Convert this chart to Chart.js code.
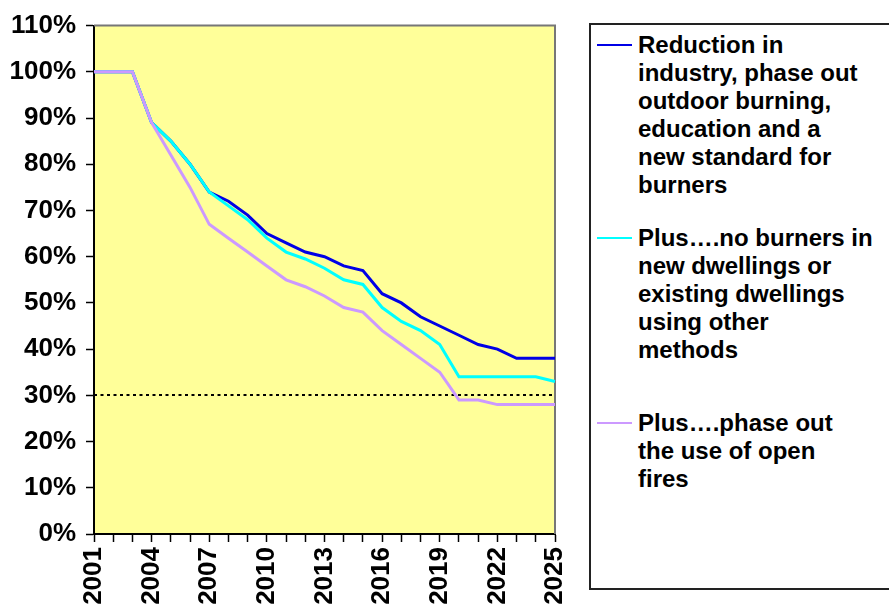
<!DOCTYPE html>
<html>
<head>
<meta charset="utf-8">
<script src="https://cdn.jsdelivr.net/npm/chart.js@4/dist/chart.umd.min.js"></script>
<style>
  body { margin: 0; background: #fff; }
  #wrap { position: relative; width: 889px; height: 615px; overflow: hidden; }
  #legend {
    position: absolute; left: 589px; top: 23px; width: 330px; height: 567px;
    border: 2px solid #222; box-sizing: border-box; background: #fff;
  }
  .item {
    position: absolute; left: 638px; font: bold 24px "Liberation Sans", Arial, sans-serif;
    line-height: 28px; color: #000; white-space: pre;
  }
  .swatch { position: absolute; left: 597px; width: 35px; height: 2px; }
</style>
</head>
<body>
<div id="wrap">
  <canvas id="myChart" width="889" height="615"></canvas>
  <div id="legend"></div>
</div>
<script>
// 年（横軸）
const years = ["2001", "2002", "2003", "2004", "2005", "2006", "2007", "2008", "2009", "2010",
  "2011", "2012", "2013", "2014", "2015", "2016", "2017", "2018", "2019", "2020",
  "2021", "2022", "2023", "2024", "2025"];

// 各シナリオの値（%）
const industryValues = [100, 100, 100, 89, 85, 80, 74, 72, 69, 65, 63, 61, 60, 58, 57, 52, 50, 47, 45, 43, 41, 40, 38, 38, 38];
const dwellingValues = [100, 100, 100, 89, 85, 80, 74, 71, 68, 64, 61, 59.5, 57.5, 55, 54, 49, 46, 44, 41, 34, 34, 34, 34, 34, 33];
const openFireValues = [100, 100, 100, 89, 82, 75, 67, 64, 61, 58, 55, 53.5, 51.5, 49, 48, 44, 41, 38, 35, 29, 29, 28, 28, 28, 28];

const seriesNames = [
  "Reduction in\nindustry, phase out\noutdoor burning,\neducation and a\nnew standard for\nburners",
  "Plus….no burners in\nnew dwellings or\nexisting dwellings\nusing other\nmethods",
  "Plus….phase out\nthe use of open\nfires",
];
const seriesColors = ["#0000e6", "#00ffff", "#cc99ff"];

// 目標ライン
const targetLevel = 30;

const yTicks = [0, 10, 20, 30, 40, 50, 60, 70, 80, 90, 100, 110];

Chart.defaults.font.family = '"Liberation Sans", Arial, sans-serif';
Chart.defaults.font.weight = "bold";
Chart.defaults.font.size = 26;
Chart.defaults.color = "#000";

// プロットエリアの背景と枠
const plotArea = {
  id: "plotArea",
  beforeDraw(chart) {
    const { ctx, chartArea: a } = chart;
    ctx.save();
    ctx.fillStyle = "#ffff99";
    ctx.fillRect(a.left, a.top, a.right - a.left, a.bottom - a.top);
    ctx.restore();
  },
  beforeDatasetsDraw(chart) {
    const { ctx, chartArea: a, scales } = chart;
    ctx.save();
    ctx.strokeStyle = "#777";
    ctx.lineWidth = 2;
    ctx.beginPath();
    ctx.moveTo(a.left, a.top);
    ctx.lineTo(a.right, a.top);
    ctx.lineTo(a.right, a.bottom);
    ctx.stroke();
    // 30% の点線
    const y = Math.round(scales.y.getPixelForValue(targetLevel));
    ctx.strokeStyle = "#000";
    ctx.lineWidth = 2;
    ctx.setLineDash([3, 3.5]);
    ctx.beginPath();
    ctx.moveTo(a.left, y);
    ctx.lineTo(a.right, y);
    ctx.stroke();
    ctx.restore();
  },
};

const valueSets = [industryValues, dwellingValues, openFireValues];

new Chart(document.getElementById("myChart"), {
  type: "line",
  data: {
    labels: years,
    datasets: valueSets.map((vals, i) => ({
      label: seriesNames[i],
      data: vals,
      borderColor: seriesColors[i],
      borderWidth: 3,
      pointRadius: 0,
      tension: 0,
      order: 2 - i,
    })),
  },
  options: {
    responsive: false,
    animation: false,
    layout: { padding: { top: 22, right: 334, left: 0, bottom: 0 } },
    plugins: { legend: { display: false }, tooltip: { enabled: false } },
    scales: {
      x: {
        offset: false,
        border: { color: "#000", width: 2 },
        grid: { drawOnChartArea: false, tickLength: 8, tickColor: "#000", tickWidth: 1.5 },
        ticks: {
          autoSkip: false,
          maxRotation: 90,
          minRotation: 90,
          padding: 5,
          callback: (v, i) => (i % 3 === 0 ? years[i] : ""),
        },
        afterFit: (scale) => { scale.height = 81; },
      },
      y: {
        min: 0,
        max: 110,
        afterBuildTicks: (scale) => { scale.ticks = yTicks.map((v) => ({ value: v })); },
        border: { color: "#000", width: 2 },
        grid: { drawOnChartArea: false, tickLength: 8, tickColor: "#000", tickWidth: 1.5 },
        ticks: { padding: 10, callback: (v) => v + "%" },
        afterFit: (scale) => { scale.width = 94; },
      },
    },
  },
  plugins: [plotArea],
});

// 凡例（HTML）
const legendTops = [31, 224, 409];
const wrap = document.getElementById("wrap");
seriesNames.forEach((name, i) => {
  const item = document.createElement("div");
  item.className = "item";
  item.style.top = legendTops[i] + "px";
  item.textContent = name;
  wrap.appendChild(item);
  const sw = document.createElement("div");
  sw.className = "swatch";
  sw.style.top = legendTops[i] + 13 + "px";
  sw.style.background = seriesColors[i];
  wrap.appendChild(sw);
});
</script>
</body>
</html>
